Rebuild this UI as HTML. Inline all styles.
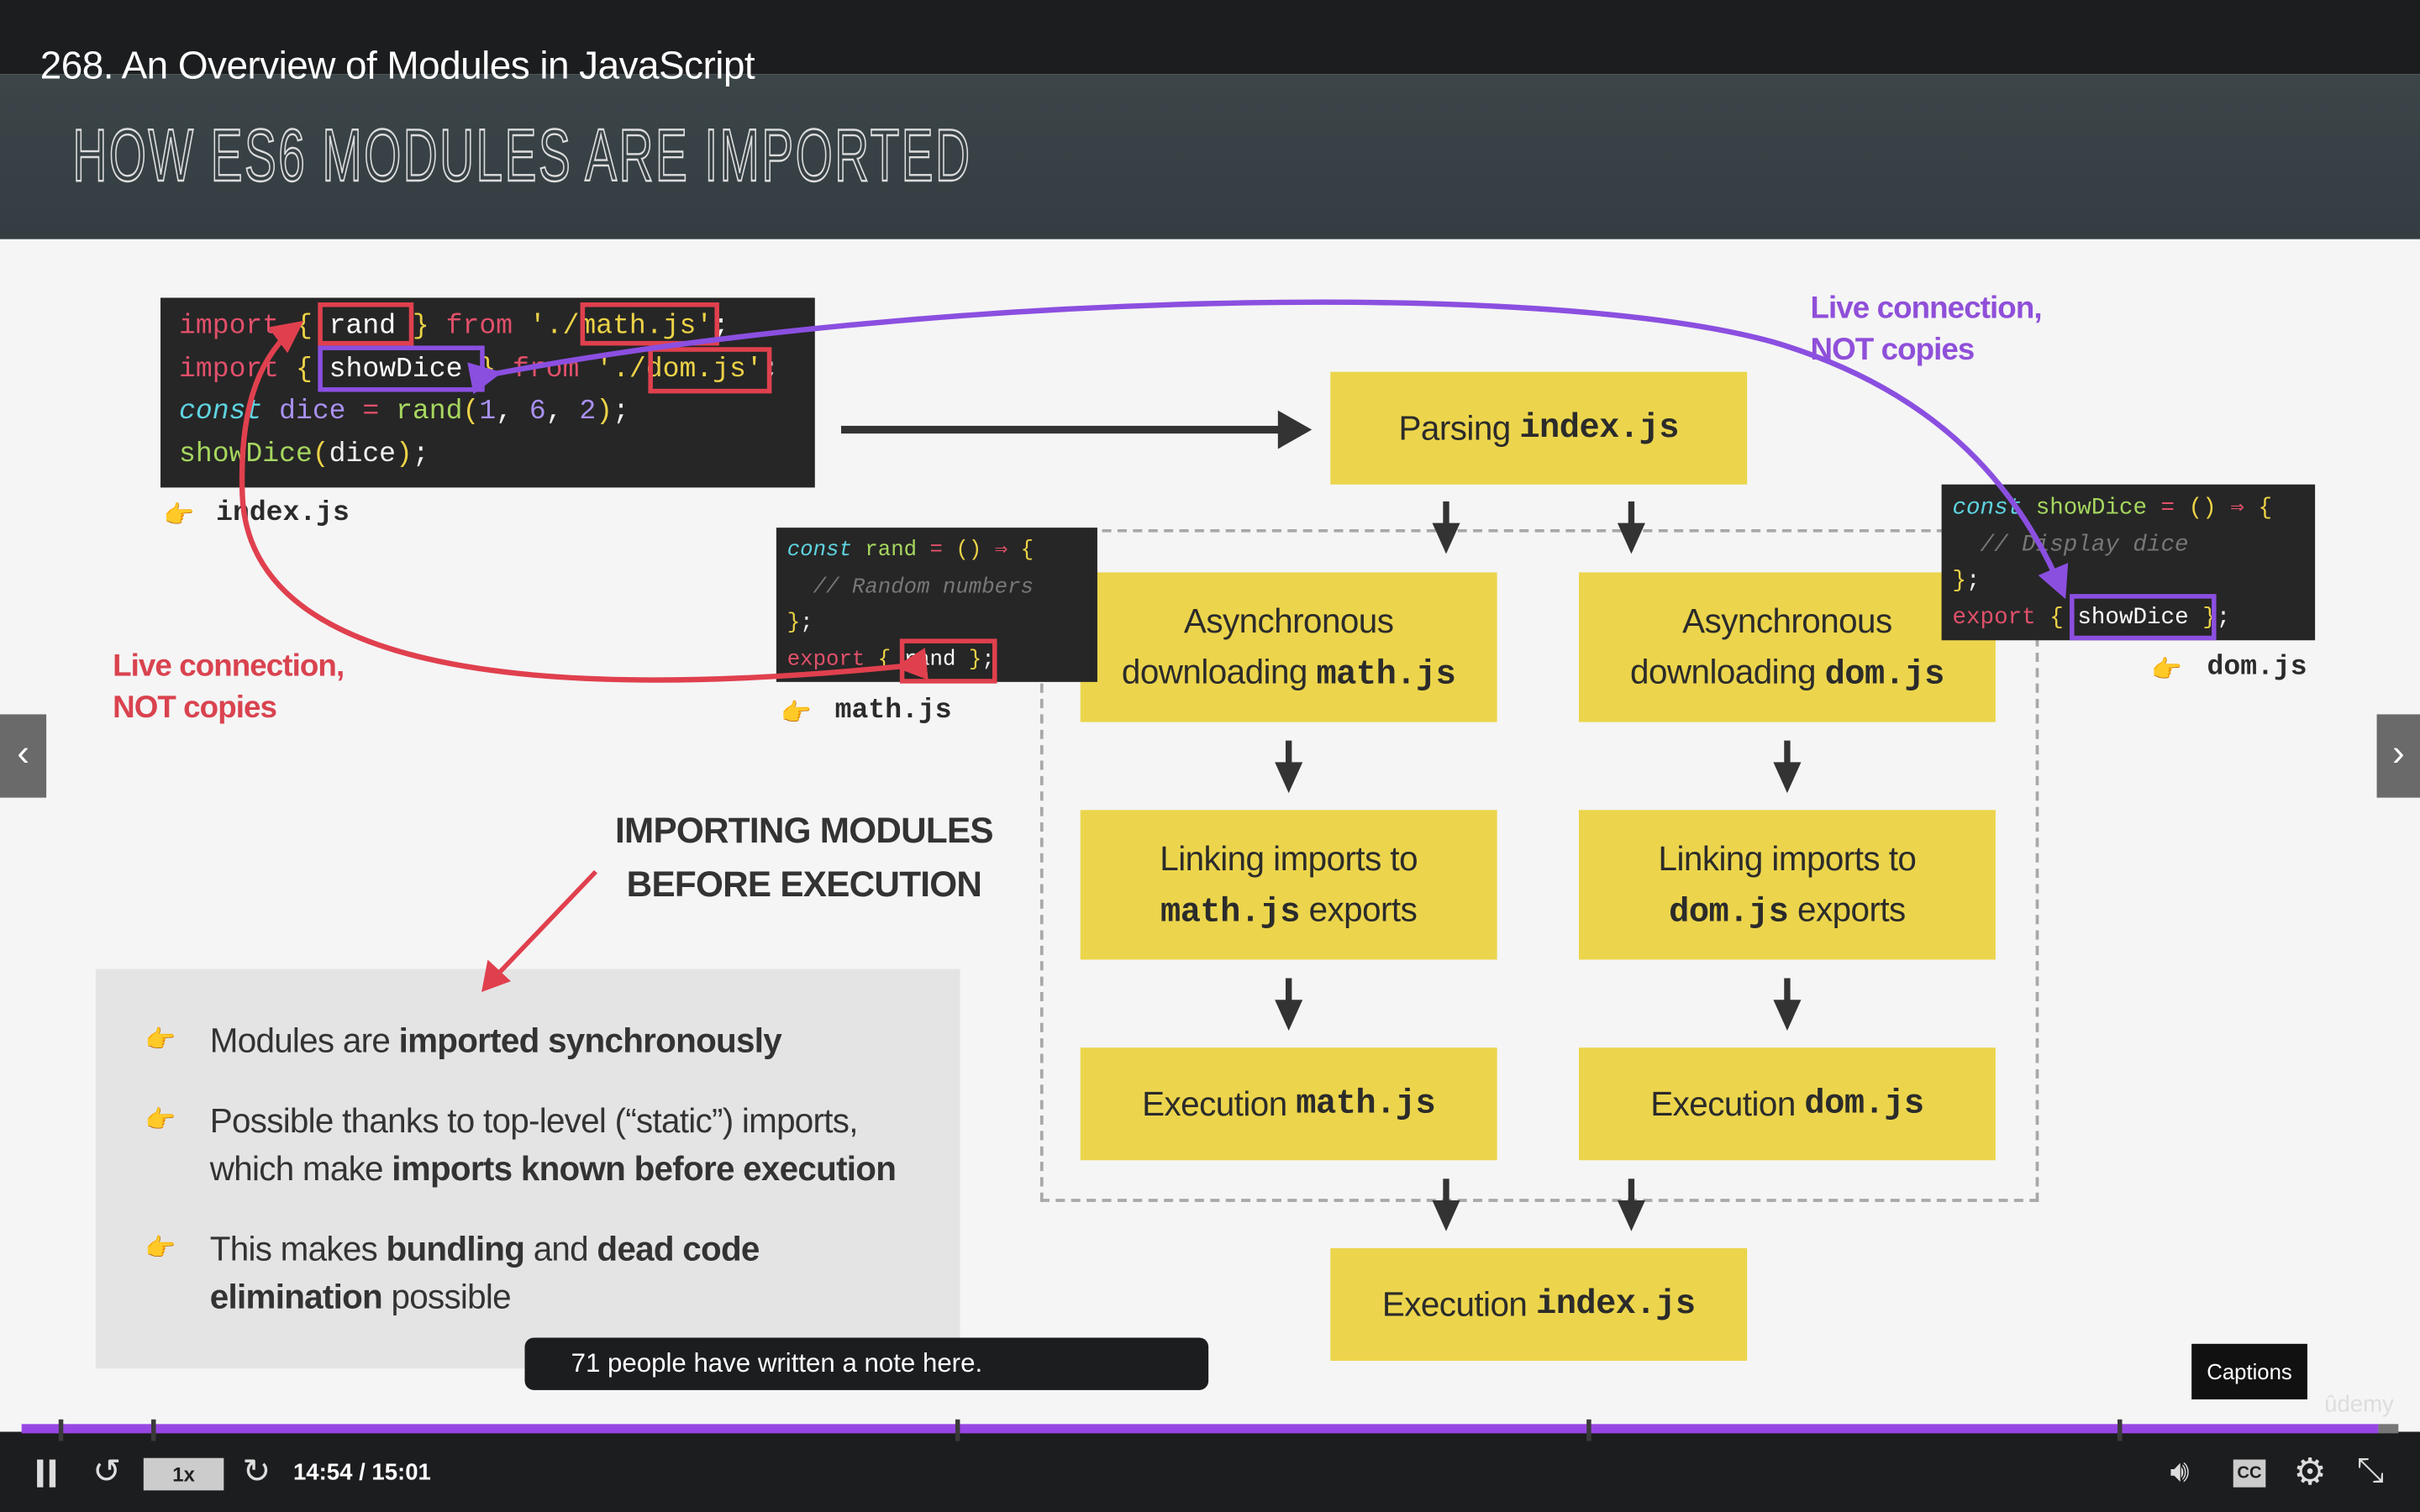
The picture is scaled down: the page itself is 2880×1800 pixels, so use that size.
<!DOCTYPE html>
<html><head><meta charset="utf-8">
<style>
html,body{margin:0;padding:0;width:2880px;height:1800px;overflow:hidden;background:#f5f5f5}
#s{position:absolute;left:0;top:0;width:1568px;height:980px;transform:scale(1.836735);transform-origin:0 0;font-family:"Liberation Sans",sans-serif;background:#f5f5f5;overflow:hidden}
.a{position:absolute}
.top{left:0;top:0;width:1568px;height:48px;background:#1c1d1f}
.hdr{left:0;top:48px;width:1568px;height:107px;background:linear-gradient(#3c4649,#333d42)}
.code{background:#262626;font-family:"Liberation Mono",monospace;color:#f0f0f0;white-space:pre}
.k{color:#e0506a}.c{color:#5fd3e0;font-style:italic}.g{color:#a6d75f}.y{color:#ecd247}.p{color:#a990f0}.cm{color:#777;font-style:italic}.w{color:#fff}
.yb{background:#ecd54c;color:#2b2b2b;font-size:22px;text-align:center;display:flex;align-items:center;justify-content:center;line-height:33px;letter-spacing:-0.3px}
.m{font-family:"Liberation Mono",monospace;font-weight:bold}
.lbl{font-family:"Liberation Mono",monospace;font-weight:bold;font-size:18px;color:#2b2b2b}
.bul{font-size:22px;color:#333;line-height:31px;letter-spacing:-0.4px}
.hand{font-size:16px;color:#e8a530}
</style></head><body>
<div id="s">
<div class="a top"></div>
<div class="a hdr"></div>
<div class="a" style="left:26px;top:29px;color:#fff;font-size:25px;letter-spacing:-0.3px">268. An Overview of Modules in JavaScript</div>
<div class="a" style="left:47px;top:74px;font-size:48px;color:transparent;-webkit-text-stroke:1.3px #ddd;transform:scaleX(0.645);transform-origin:0 0;letter-spacing:2px;white-space:nowrap">HOW ES6 MODULES ARE IMPORTED</div>

<!-- dashed container -->
<div class="a" style="left:674px;top:343px;width:647px;height:436px;border:2px dashed #a8a8a8;box-sizing:border-box"></div>

<!-- yellow boxes -->
<div class="a yb" style="left:862px;top:241px;width:270px;height:73px">Parsing&nbsp;<span class="m">index.js</span></div>
<div class="a yb" style="left:700px;top:371px;width:270px;height:97px"><div>Asynchronous<br>downloading <span class="m">math.js</span></div></div>
<div class="a yb" style="left:1023px;top:371px;width:270px;height:97px"><div>Asynchronous<br>downloading <span class="m">dom.js</span></div></div>
<div class="a yb" style="left:700px;top:525px;width:270px;height:97px"><div>Linking imports to<br><span class="m">math.js</span> exports</div></div>
<div class="a yb" style="left:1023px;top:525px;width:270px;height:97px"><div>Linking imports to<br><span class="m">dom.js</span> exports</div></div>
<div class="a yb" style="left:700px;top:679px;width:270px;height:73px">Execution&nbsp;<span class="m">math.js</span></div>
<div class="a yb" style="left:1023px;top:679px;width:270px;height:73px">Execution&nbsp;<span class="m">dom.js</span></div>
<div class="a yb" style="left:862px;top:809px;width:270px;height:73px">Execution&nbsp;<span class="m">index.js</span></div>

<!-- index.js code -->
<div class="a code" style="left:104px;top:193px;width:424px;height:123px;font-size:18px;line-height:27.5px;padding:6px 0 0 12px;box-sizing:border-box"><span class="k">import</span> <span class="y">{</span> <span class="w">rand</span> <span class="y">}</span> <span class="k">from</span> <span class="y">'./math.js'</span>;
<span class="k">import</span> <span class="y">{</span> <span class="w">showDice</span> <span class="y">}</span> <span class="k">from</span> <span class="y">'./dom.js'</span>;
<span class="c">const</span> <span class="p">dice</span> <span class="k">=</span> <span class="g">rand</span><span class="y">(</span><span class="p">1</span>, <span class="p">6</span>, <span class="p">2</span><span class="y">)</span>;
<span class="g">showDice</span><span class="y">(</span>dice<span class="y">)</span>;</div>
<div class="a" style="left:206px;top:196px;width:62px;height:28px;border:3px solid #e0404e;box-sizing:border-box"></div>
<div class="a" style="left:376px;top:196px;width:90px;height:28px;border:3px solid #e0404e;box-sizing:border-box"></div>
<div class="a" style="left:206px;top:224px;width:108px;height:30px;border:3px solid #8b4fe0;box-sizing:border-box"></div>
<div class="a" style="left:420px;top:225px;width:80px;height:30px;border:3px solid #e0404e;box-sizing:border-box"></div>
<div class="a hand" style="left:106px;top:324px">👉</div>
<div class="a lbl" style="left:140px;top:323px">index.js</div>

<!-- math.js code -->
<div class="a code" style="left:503px;top:342px;width:208px;height:100px;font-size:14px;line-height:23.5px;padding:4px 0 0 7px;box-sizing:border-box"><span class="c">const</span> <span class="g">rand</span> <span class="k">=</span> <span class="y">()</span> <span class="k">⇒</span> <span class="y">{</span>
  <span class="cm">// Random numbers</span>
<span class="y">}</span>;
<span class="k">export</span> <span class="y">{</span> <span class="w">rand</span> <span class="y">}</span>;</div>
<div class="a" style="left:583px;top:414px;width:63px;height:29px;border:3px solid #e0404e;box-sizing:border-box"></div>
<div class="a hand" style="left:506px;top:452px">👉</div>
<div class="a lbl" style="left:541px;top:451px">math.js</div>

<!-- dom.js code -->
<div class="a code" style="left:1258px;top:314px;width:242px;height:101px;font-size:15px;line-height:23.5px;padding:4px 0 0 7px;box-sizing:border-box"><span class="c">const</span> <span class="g">showDice</span> <span class="k">=</span> <span class="y">()</span> <span class="k">⇒</span> <span class="y">{</span>
  <span class="cm">// Display dice</span>
<span class="y">}</span>;
<span class="k">export</span> <span class="y">{</span> <span class="w">showDice</span> <span class="y">}</span>;</div>
<div class="a" style="left:1341px;top:385px;width:95px;height:30px;border:3px solid #8b4fe0;box-sizing:border-box"></div>
<div class="a hand" style="left:1394px;top:424px">👉</div>
<div class="a lbl" style="left:1430px;top:423px">dom.js</div>

<div class="a" style="left:73px;top:419px;color:#d9434f;font-size:20px;font-weight:bold;line-height:27px;letter-spacing:-0.5px">Live connection,<br>NOT copies</div>
<div class="a" style="left:1173px;top:187px;color:#8f4fd9;font-size:20px;font-weight:bold;line-height:27px;letter-spacing:-0.5px">Live connection,<br>NOT copies</div>
<div class="a" style="left:371px;top:521px;width:300px;text-align:center;color:#333;font-size:23px;font-weight:bold;line-height:35px;letter-spacing:-0.4px">IMPORTING MODULES<br>BEFORE EXECUTION</div>

<div class="a" style="left:62px;top:628px;width:560px;height:259px;background:#e4e4e4"></div>
<div class="a hand" style="left:94px;top:664px">👉</div>
<div class="a bul" style="left:136px;top:659px">Modules are <b>imported synchronously</b></div>
<div class="a hand" style="left:94px;top:716px">👉</div>
<div class="a bul" style="left:136px;top:711px">Possible thanks to top-level (“static”) imports,<br>which make <b>imports known before execution</b></div>
<div class="a hand" style="left:94px;top:799px">👉</div>
<div class="a bul" style="left:136px;top:794px">This makes <b>bundling</b> and <b>dead code<br>elimination</b> possible</div>

<svg class="a" style="left:0;top:0" width="1568" height="980">
<defs>
<marker id="ar" markerWidth="6" markerHeight="6" refX="5" refY="3" orient="auto" markerUnits="strokeWidth"><path d="M0,0 L6,3 L0,6 z" fill="#e0404e"/></marker>
<marker id="ap" markerWidth="6" markerHeight="6" refX="5" refY="3" orient="auto" markerUnits="strokeWidth"><path d="M0,0 L6,3 L0,6 z" fill="#8b4fe0"/></marker>
<g id="da"><rect x="-2" y="0" width="4" height="18"/><path d="M-9,14 L9,14 L0,34z"/></g>
</defs>
<g fill="#333" stroke="none">
<rect x="545" y="276" width="285" height="5"/><path d="M828,266 L850,278.5 L828,291z"/>
<use href="#da" x="937" y="325"/><use href="#da" x="1057" y="325"/>
<use href="#da" x="835" y="480"/><use href="#da" x="1158" y="480"/>
<use href="#da" x="835" y="634"/><use href="#da" x="1158" y="634"/>
<use href="#da" x="937" y="764"/><use href="#da" x="1057" y="764"/>
</g>
<path d="M583,432 C300,460 160,420 157,320 C155,260 170,228 194,210" fill="none" stroke="#e0404e" stroke-width="3.5" marker-end="url(#ar)" marker-start="url(#ar)"/>
<path d="M322,242 C600,190 1000,180 1150,222 C1260,255 1310,320 1337,385" fill="none" stroke="#8b4fe0" stroke-width="3.5" marker-end="url(#ap)" marker-start="url(#ap)"/>
<path d="M386,565 L322,632" stroke="#e0404e" stroke-width="3"/><path d="M312,643 L316,622 L331,636z" fill="#e0404e"/>
</svg>

<div class="a" style="left:340px;top:867px;width:443px;height:34px;background:#1c1d1f;border-radius:6px;color:#fff;font-size:17px;line-height:34px;box-sizing:border-box;padding-left:30px">71 people have written a note here.</div>
<div class="a" style="left:1420px;top:871px;width:75px;height:36px;background:#111;color:#fff;font-size:14px;line-height:36px;text-align:center">Captions</div>
<div class="a" style="left:1506px;top:902px;color:#ddd;font-size:15px">ûdemy</div>

<div class="a" style="left:0;top:463px;width:30px;height:54px;background:#6a6a6a;color:#fff;font-size:24px;line-height:52px;text-align:center">‹</div>
<div class="a" style="left:1540px;top:463px;width:28px;height:54px;background:#6a6a6a;color:#fff;font-size:24px;line-height:52px;text-align:center">›</div>

<div class="a" style="left:0;top:928px;width:1568px;height:52px;background:#1c1d1f"></div>
<div class="a" style="left:14px;top:923px;width:1527px;height:6px;background:#9846e3"></div>
<div class="a" style="left:1541px;top:923px;width:13px;height:6px;background:#777"></div>
<div class="a" style="left:38px;top:920px;width:3px;height:14px;background:#3a3a3a"></div>
<div class="a" style="left:98px;top:920px;width:3px;height:14px;background:#3a3a3a"></div>
<div class="a" style="left:619px;top:920px;width:3px;height:14px;background:#3a3a3a"></div>
<div class="a" style="left:1028px;top:920px;width:3px;height:14px;background:#3a3a3a"></div>
<div class="a" style="left:1372px;top:920px;width:3px;height:14px;background:#3a3a3a"></div>
<div class="a" style="left:24px;top:946px;width:4px;height:18px;background:#ddd"></div>
<div class="a" style="left:32px;top:946px;width:4px;height:18px;background:#ddd"></div>
<div class="a" style="left:60px;top:941px;color:#ddd;font-size:22px">↺</div>
<div class="a" style="left:93px;top:945px;width:52px;height:21px;background:#ccc;color:#222;font-size:13px;font-weight:bold;text-align:center;line-height:21px">1x</div>
<div class="a" style="left:157px;top:941px;color:#ddd;font-size:22px">↻</div>
<div class="a" style="left:190px;top:946px;color:#fff;font-size:15px;font-weight:bold">14:54 / 15:01</div>
<div class="a" style="left:1406px;top:943px;color:#ddd;font-size:20px">🔊︎</div>
<div class="a" style="left:1447px;top:946px;width:21px;height:18px;background:#ccc;color:#222;font-size:11px;font-weight:bold;text-align:center;line-height:18px">CC</div>
<div class="a" style="left:1486px;top:940px;color:#ddd;font-size:24px">⚙</div>
<div class="a" style="left:1527px;top:940px;color:#ddd;font-size:22px">⤡</div>
</div>
</body></html>
